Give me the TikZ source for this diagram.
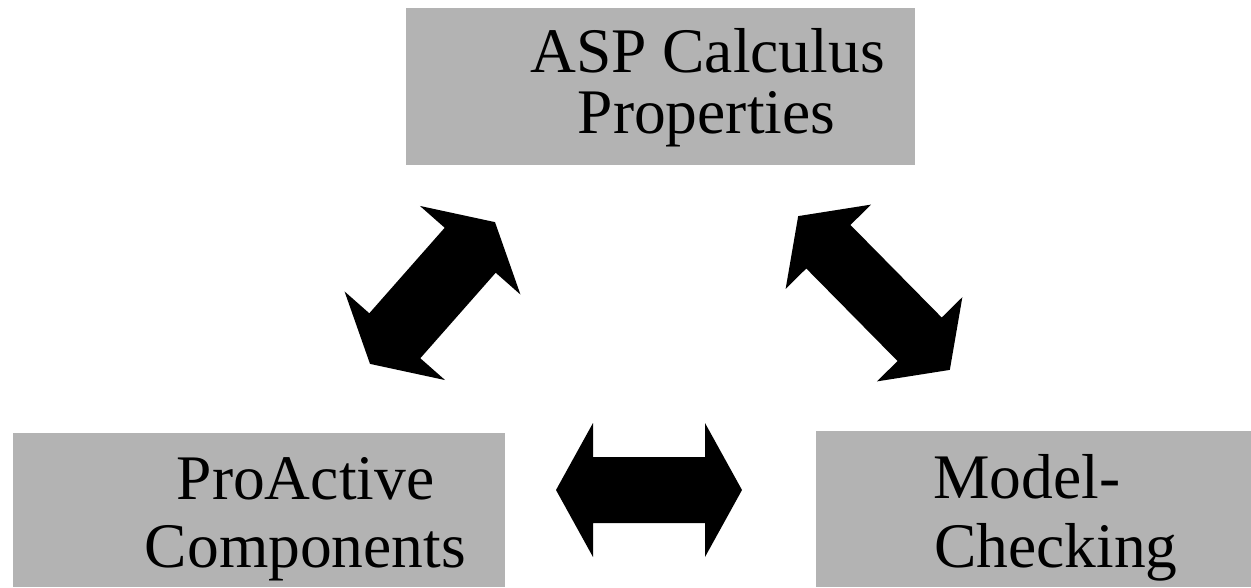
\documentclass[tikz,border=0pt]{standalone}
\usepackage{fontspec}
\setmainfont{Liberation Serif}
\definecolor{boxgray}{RGB}{179,179,179}
\newcommand\DblArrowShape[7]{%
  % #1,#2 centre; #3 angle; #4 half length; #5 head length; #6 head half width; #7 shaft half width
  \begin{scope}[shift={(#1,#2)}, rotate=#3]
    \fill[arrowfill] (#4,0) -- ({#4-#5},#6) -- ({#4-#5},#7) -- ({-#4+#5},#7) -- ({-#4+#5},#6)
      -- (-#4,0) -- ({-#4+#5},-#6) -- ({-#4+#5},-#7) -- ({#4-#5},-#7) -- ({#4-#5},-#6) -- cycle;
  \end{scope}}
\tikzset{
  box/.style={fill=boxgray, draw=none, inner sep=0pt, outer sep=0pt, anchor=north west},
  txt/.style={font=\fontsize{63.5}{70}\selectfont, inner sep=0pt, text=black},
  arrowfill/.style={fill=black},
}
\begin{document}
\begin{tikzpicture}[x=1pt, y=-1pt]
  \useasboundingbox (0,0) rectangle (1251,587);
  % boxes
  \node[box, minimum width=509pt, minimum height=157pt] (asp) at (406,8) {};
  \node[box, minimum width=492pt, minimum height=154pt] (pro) at (13,433) {};
  \node[box, minimum width=435pt, minimum height=156pt] (mc) at (816,431) {};
  % texts
  \node[txt, anchor=base] (asp1) at (707.5,72) {ASP Calculus};
  \node[txt, anchor=base] (asp2) at (706.5,133) {Properties};
  \node[txt, anchor=base] (pro1) at (305.5,499) {ProActive};
  \node[txt, anchor=base] (pro2) at (305.5,567) {Components};
  \node[txt, anchor=base west] (mc1) at (933,498) {Model-};
  \node[txt, anchor=base west] (mc2) at (934,567) {Checking};
  % arrows
  \DblArrowShape{432.5}{293}{48.6}{94.5}{37.5}{67}{34}
  \DblArrowShape{874}{293}{-45.4}{108}{43}{60}{31}
  \DblArrowShape{649}{490}{0}{93}{37}{67}{33}
\end{tikzpicture}
\end{document}
